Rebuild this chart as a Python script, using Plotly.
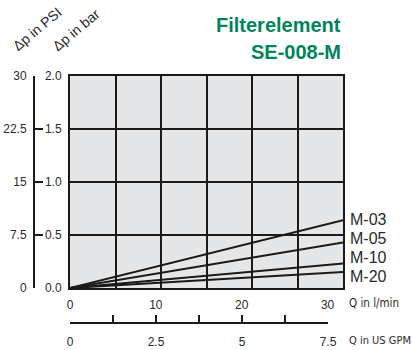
import plotly.graph_objects as go

# ---- data ----
flow_max_lpm = 31.8                     # right edge of the chart in l/min
series_names = ["M-03", "M-05", "M-10", "M-20"]
dp_bar_at_max = [0.64, 0.43, 0.23, 0.15]  # Δp in bar at right edge
lpm_ticks = [0, 10, 20, 30]
gpm_tickvals = [0, 1.25, 2.5, 3.75, 5, 6.25, 7.5]
gpm_ticktext = ["0", "", "2.5", "", "5", "", "7.5"]
bar_ticks = [0.0, 0.5, 1.0, 1.5, 2.0]
psi_ticks = [0, 7.5, 15, 22.5, 30]
psi_ticktext = ["0", "7.5", "15", "22.5", "30"]
label_yshift = [1, 4, 6, -4]

# ---- geometry ----
W, H = 412, 350
ML, MR, MT, MB = 34, 69, 76, 27
PW, PH = W - ML - MR, H - MT - MB
plot_left, plot_bottom = 70, 288
gpm_right = 328
xdom0 = (plot_left - ML) / PW
ydom0 = (H - MB - plot_bottom) / PH
gpm_dom1 = (gpm_right - ML) / PW

def px(x):
    return (x - ML) / PW

def py(y):
    return (H - MB - y) / PH

REG = "Liberation Sans, Arial"
COND = "DejaVu Sans Condensed, Liberation Sans"
TXT = "#2b2b2b"
GREEN = "#00845c"
LINE = "#1a1a1a"
PLOTBG = "#e5e6e8"

fig = go.Figure()
for name, v in zip(series_names, dp_bar_at_max):
    fig.add_trace(go.Scatter(x=[0, flow_max_lpm], y=[0, v], mode="lines",
                             line=dict(color=LINE, width=2), name=name,
                             showlegend=False, hoverinfo="skip"))
# empty helper traces so that the secondary axes are drawn
for xa, ya in [("x2", "y"), ("x", "y2"), ("x3", "y")]:
    fig.add_trace(go.Scatter(x=[None], y=[None], xaxis=xa, yaxis=ya, mode="lines",
                             showlegend=False, hoverinfo="skip"))

annotations = []
for name, v, ys in zip(series_names, dp_bar_at_max, label_yshift):
    annotations.append(dict(x=flow_max_lpm, y=v, xref="x", yref="y", text=name,
                            showarrow=False, xanchor="left", yanchor="middle",
                            xshift=5, yshift=ys,
                            font=dict(family=REG, size=16, color=TXT)))

annotations += [
    dict(x=1, y=py(25), xref="paper", yref="paper", text="<b>Filterelement</b>",
         showarrow=False, xanchor="right", yanchor="middle",
         font=dict(family=REG, size=20, color=GREEN)),
    dict(x=1, y=py(52), xref="paper", yref="paper", text="<b>SE-008-M</b>",
         showarrow=False, xanchor="right", yanchor="middle",
         font=dict(family=REG, size=20, color=GREEN)),
    dict(x=px(37), y=py(29), xref="paper", yref="paper", text="Δp in PSI",
         showarrow=False, textangle=-40, xanchor="center", yanchor="middle",
         font=dict(family=REG, size=14, color=TXT)),
    dict(x=px(76), y=py(30), xref="paper", yref="paper", text="Δp in bar",
         showarrow=False, textangle=-40, xanchor="center", yanchor="middle",
         font=dict(family=REG, size=14, color=TXT)),
    dict(x=px(347), y=py(303), xref="paper", yref="paper", text="Q in l/min",
         showarrow=False, xanchor="left", yanchor="middle",
         font=dict(family=COND, size=11.5, color=TXT)),
    dict(x=px(347), y=py(340), xref="paper", yref="paper", text="Q in US GPM",
         showarrow=False, xanchor="left", yanchor="middle",
         font=dict(family=COND, size=11, color=TXT)),
]

tickfont = dict(family=REG, size=12, color=TXT)

fig.update_layout(
    width=W, height=H, autosize=False,
    margin=dict(l=ML, r=MR, t=MT, b=MB, pad=0, autoexpand=False),
    paper_bgcolor="white", plot_bgcolor="rgba(0,0,0,0)",
    showlegend=False,
    shapes=[dict(type="rect", xref="x domain", yref="y domain", x0=0, x1=1, y0=0, y1=1,
                 fillcolor=PLOTBG, line=dict(width=0), layer="below")],
    xaxis=dict(domain=[xdom0, 1], range=[0, flow_max_lpm], tick0=0,
               dtick=flow_max_lpm / 6, showgrid=True, gridcolor=LINE, gridwidth=2,
               showticklabels=False, ticks="", zeroline=False, automargin=False,
               showline=True, mirror=True, linecolor=LINE, linewidth=2),
    xaxis2=dict(overlaying="x", anchor="y", side="bottom", range=[0, flow_max_lpm],
                tickvals=lpm_ticks, showgrid=False, zeroline=False, ticks="",
                showline=False, tickfont=tickfont, ticklabelstandoff=8, automargin=False),
    xaxis3=dict(domain=[xdom0, gpm_dom1], anchor="free", position=0,
                range=[0, gpm_tickvals[-1]], tickvals=gpm_tickvals, ticktext=gpm_ticktext,
                ticks="inside", ticklen=7, tickwidth=2, tickcolor=LINE,
                showgrid=False, zeroline=False, showline=True, linecolor=LINE,
                linewidth=2, tickfont=tickfont, ticklabelstandoff=8, automargin=False),
    yaxis=dict(domain=[ydom0, 1], range=[0, 2], tickvals=bar_ticks, tickformat=".1f",
               showgrid=True, gridcolor=LINE, gridwidth=2, ticks="",
               zeroline=False, showline=True, mirror=True, linecolor=LINE,
               linewidth=2, tickfont=tickfont, ticklabelstandoff=4, automargin=False),
    yaxis2=dict(overlaying="y", anchor="free", position=0, side="left",
                range=[0, 30], tickvals=psi_ticks, ticktext=psi_ticktext,
                ticks="inside", ticklen=8, tickwidth=2, tickcolor=LINE,
                showgrid=False, zeroline=False, showline=True, linecolor=LINE,
                linewidth=2, tickfont=tickfont, ticklabelstandoff=4, automargin=False),
    annotations=annotations,
)

fig.write_html("out.html", config={"displayModeBar": False},
               post_script="document.body.style.margin='0';")
